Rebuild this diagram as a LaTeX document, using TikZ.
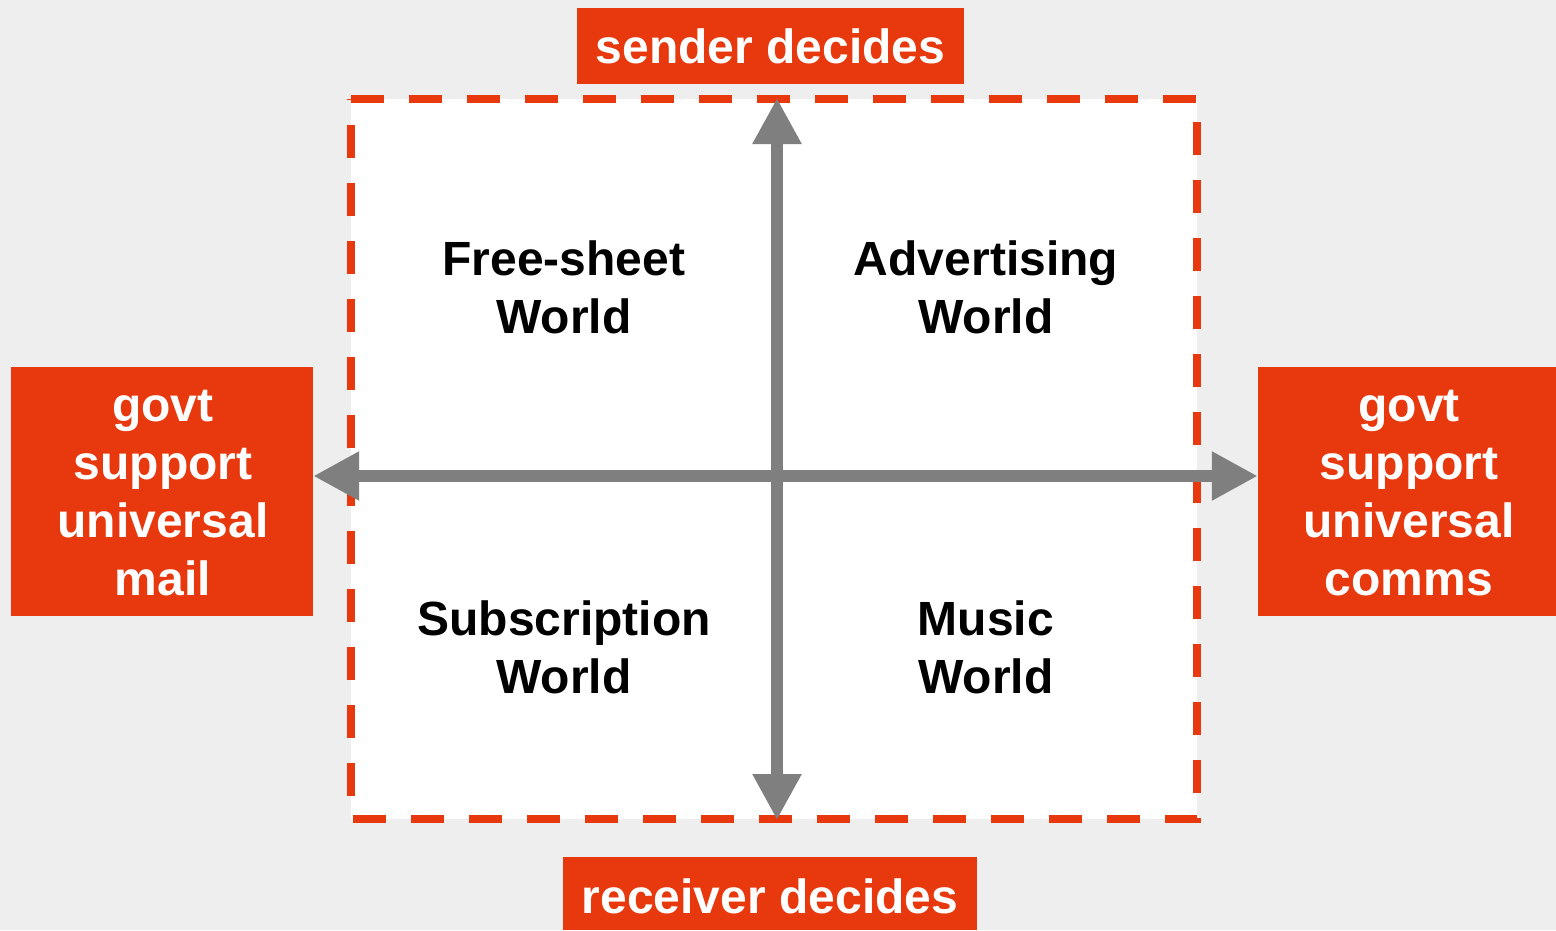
\documentclass[tikz,border=0pt]{standalone}
\usepackage{fontspec}
\setmainfont{Liberation Sans}
\usetikzlibrary{arrows.meta}
\definecolor{bg}{HTML}{EEEEEE}
\definecolor{redbox}{HTML}{E8380D}
\definecolor{arrowgray}{HTML}{7F7F7F}
\tikzset{
  bigfont/.style={font=\fontsize{48}{58}\selectfont\bfseries},
  redbg/.style={fill=redbox, inner sep=0pt},
  redtext/.style={text=white, bigfont, align=center, inner sep=0pt},
  world/.style={text=black, bigfont, align=center, inner sep=0pt},
  axis2/.style={draw=arrowgray, line width=12pt, {Triangle[length=46pt,width=46pt]}-{Triangle[length=46pt,width=46pt]}},
  border/.style={draw=redbox, line width=8pt, dash pattern=on 33pt off 25pt},
}
\begin{document}
\begin{tikzpicture}[x=1pt,y=-1pt]
\useasboundingbox[fill=bg] (0,0) rectangle (1556,930);
% square
\node[fill=white, minimum width=846pt, minimum height=720pt, inner sep=0pt] (sq) at (774,459) {};
\draw[border] (sq.north west) -- (sq.north east) -- (sq.south east) -- (sq.south west) -- cycle;
% label boxes
\node[redbg, minimum width=387pt, minimum height=76pt] (send) at (770.5,46) {};
\node[redbg, minimum width=414pt, minimum height=73pt] (recv) at (770,893.5) {};
\node[redbg, minimum width=302pt, minimum height=249pt] (left) at (162,491.5) {};
\node[redbg, minimum width=298pt, minimum height=249pt] (right) at (1407,491.5) {};
% label texts
\node[redtext] (sendt) at (770.5,46) {sender decides};
\node[redtext] (recvt) at (770,896) {receiver decides};
\node[redtext] (leftt) at (163,493.5) {govt\\support\\universal\\mail};
\node[redtext] (rightt) at (1409,493.5) {govt\\support\\universal\\comms};
% quadrant texts
\node[world] (fs) at (564,287) {Free-sheet\\World};
\node[world] (ad) at (986,287) {Advertising\\World};
\node[world] (sub) at (564,647) {Subscription\\World};
\node[world] (mus) at (986,647) {Music\\World};
% axes
\coordinate (vt) at (777,98);
\coordinate (vb) at (777,820);
\draw[axis2] (vb) -- (vt);
\draw[axis2] (left.east |- 0,476) -- (right.west |- 0,476);
\end{tikzpicture}
\end{document}
